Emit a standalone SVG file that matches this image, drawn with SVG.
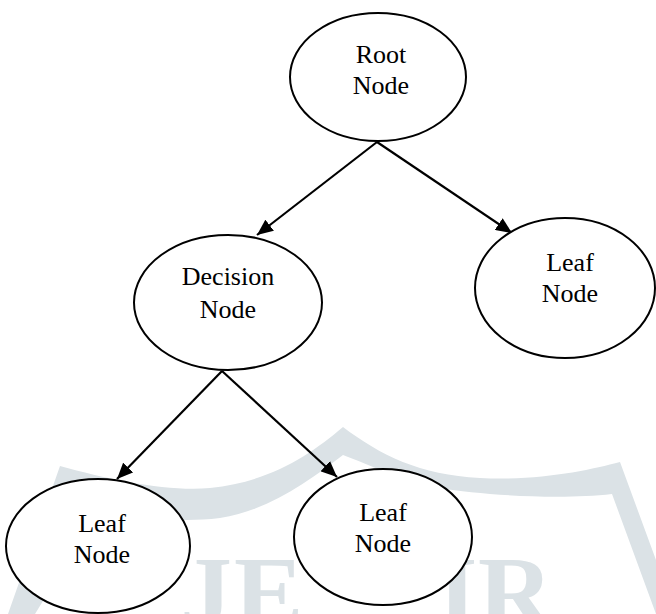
<svg xmlns="http://www.w3.org/2000/svg" width="656" height="614" viewBox="0 0 656 614">
  <defs>
    <style>
      .node ellipse { fill: #ffffff; stroke: #000000; stroke-width: 2; }
      .node text { font-family: "Liberation Serif", "Times New Roman", serif; font-size: 26px; fill: #000000; text-anchor: middle; }
      .edge { stroke: #000000; stroke-width: 2.2; fill: none; marker-end: url(#arrow); }
      .wm { fill: #dbe2e6; }
      .wmtext { font-family: "Liberation Serif", "Times New Roman", serif; font-weight: bold; font-size: 104px; fill: #dbe2e6; }
    </style>
    <marker id="arrow" markerUnits="userSpaceOnUse" markerWidth="18" markerHeight="14" refX="16" refY="7" orient="auto">
      <path d="M0,0 L16,7 L0,14 z" fill="#000000"/>
    </marker>
  </defs>
  <rect width="656" height="614" fill="#ffffff"/>

  <g id="watermark">
    <path class="wm" d="M8 614 L60 466 C110 480 170 492 210 488 C270 482 310 455 343 427 C380 455 420 475 480 478 C540 481 590 470 620 462 L656 560 L656 614 L612 494 C560 500 480 495 440 488 C400 480 370 465 343 455 C310 480 270 510 220 518 C170 524 130 515 100 508 L35 614 Z"/>
    <text class="wmtext" x="180" y="628">J</text>
    <text class="wmtext" x="234" y="628">E</text>
    <text class="wmtext" x="437" y="628">I</text>
    <text class="wmtext" x="478" y="628">R</text>
  </g>

  <g id="connectors">
    <line class="edge" x1="377" y1="142" x2="257" y2="235"/>
    <line class="edge" x1="377" y1="142" x2="512" y2="233"/>
    <line class="edge" x1="222" y1="371" x2="117" y2="479"/>
    <line class="edge" x1="222" y1="371" x2="337" y2="477"/>
  </g>

  <g id="root" class="node">
    <ellipse cx="378" cy="77" rx="88" ry="64"/>
    <text x="381" y="63">Root</text>
    <text x="381" y="94">Node</text>
  </g>

  <g id="decision" class="node">
    <ellipse cx="228" cy="302.5" rx="94" ry="67.5"/>
    <text x="228" y="285">Decision</text>
    <text x="228" y="318">Node</text>
  </g>

  <g id="leaf-right" class="node">
    <ellipse cx="565" cy="288" rx="90" ry="70"/>
    <text x="570" y="271">Leaf</text>
    <text x="570" y="302">Node</text>
  </g>

  <g id="leaf-bottom-left" class="node">
    <ellipse cx="98" cy="546" rx="92" ry="67"/>
    <text x="102" y="532">Leaf</text>
    <text x="102" y="563">Node</text>
  </g>

  <g id="leaf-bottom-right" class="node">
    <ellipse cx="383" cy="537" rx="89" ry="68"/>
    <text x="383" y="521">Leaf</text>
    <text x="383" y="552">Node</text>
  </g>
</svg>
